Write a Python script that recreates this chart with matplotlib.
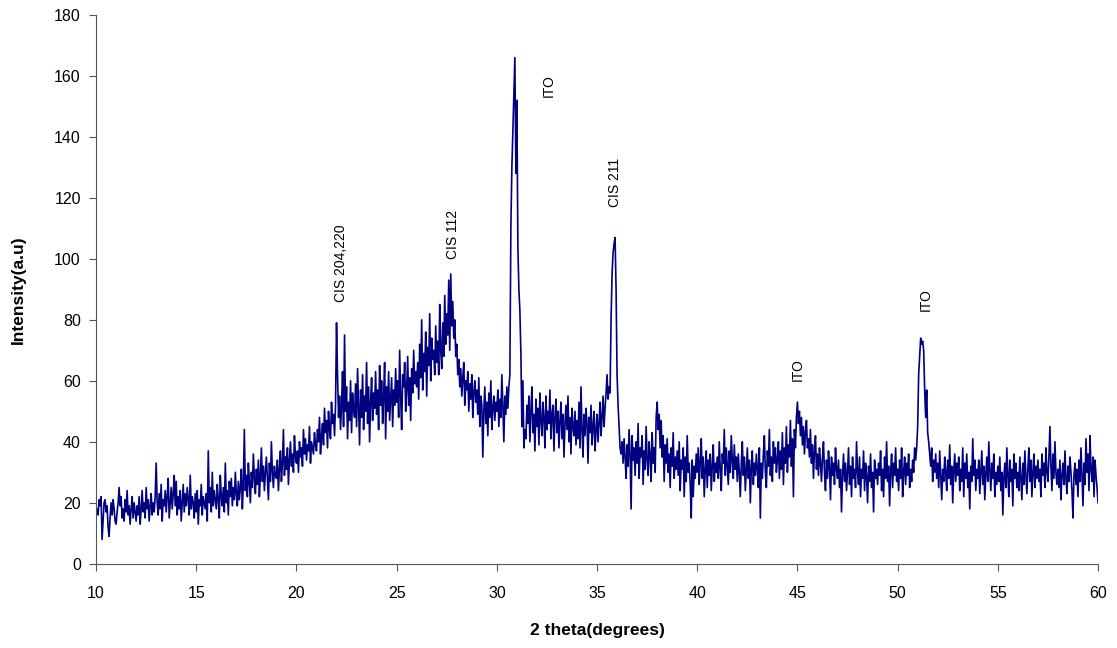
import numpy as np
import matplotlib
matplotlib.use("Agg")
import matplotlib.pyplot as plt

plt.rcParams['font.family'] = ['Liberation Sans', 'DejaVu Sans']

# intensity, one row per degree (step 0.05), 10 -> 60
rows = [
    [17, 18, 16, 21, 19, 22, 8, 14, 20, 21, 17, 19, 12, 9, 15, 20, 16, 21, 18, 14],
    [13, 17, 20, 25, 19, 22, 15, 18, 14, 21, 17, 24, 16, 19, 13, 18, 22, 15, 20, 17],
    [14, 19, 16, 22, 13, 18, 24, 17, 20, 15, 25, 18, 21, 14, 19, 23, 16, 20, 17, 22],
    [33, 20, 16, 23, 18, 26, 14, 21, 19, 24, 17, 22, 28, 15, 20, 25, 18, 23, 29, 19],
    [27, 16, 22, 18, 24, 14, 20, 26, 17, 23, 19, 25, 21, 16, 29, 18, 22, 20, 15, 23],
    [17, 24, 13, 21, 19, 26, 16, 22, 20, 18, 23, 14, 37, 20, 25, 17, 30, 19, 24, 21],
    [18, 26, 21, 15, 29, 22, 19, 25, 17, 33, 20, 24, 16, 27, 22, 28, 19, 25, 21, 30],
    [23, 19, 27, 21, 25, 31, 18, 26, 44, 24, 29, 22, 33, 27, 20, 30, 25, 36, 28, 23],
    [31, 26, 34, 22, 29, 38, 27, 32, 24, 30, 35, 28, 21, 33, 27, 40, 30, 25, 32, 29],
    [28, 34, 24, 31, 37, 27, 33, 44, 29, 35, 31, 38, 26, 34, 40, 32, 36, 30, 42, 35],
    [33, 37, 30, 40, 35, 38, 32, 44, 36, 41, 34, 39, 37, 45, 33, 40, 38, 36, 43, 39],
    [37, 44, 40, 48, 36, 42, 46, 39, 51, 43, 47, 38, 50, 44, 41, 53, 46, 49, 42, 52],
    [79, 62, 48, 55, 44, 52, 63, 45, 75, 50, 58, 41, 53, 47, 60, 43, 56, 51, 48, 59],
    [45, 64, 52, 39, 57, 48, 62, 44, 55, 50, 66, 46, 58, 40, 53, 61, 47, 56, 51, 63],
    [49, 57, 44, 65, 52, 60, 46, 55, 66, 41, 58, 50, 63, 47, 54, 61, 45, 57, 52, 64],
    [53, 60, 48, 70, 55, 44, 62, 58, 66, 50, 57, 68, 52, 61, 47, 64, 56, 70, 59, 63],
    [58, 66, 54, 72, 61, 80, 57, 69, 63, 76, 55, 71, 65, 82, 60, 74, 67, 70, 62, 78],
    [66, 73, 62, 85, 70, 64, 79, 68, 88, 72, 82, 75, 93, 70, 95, 78, 86, 74, 80, 68],
    [72, 62, 67, 58, 64, 55, 61, 66, 52, 60, 57, 63, 50, 59, 54, 62, 48, 56, 60, 53],
    [57, 49, 61, 45, 55, 52, 35, 50, 58, 46, 53, 42, 56, 48, 60, 44, 51, 55, 47, 53],
    [50, 57, 45, 54, 48, 62, 52, 40, 55, 49, 58, 51, 58, 62, 110, 130, 142, 155, 166, 128],
    [152, 104, 90, 83, 69, 45, 60, 38, 44, 41, 52, 46, 55, 40, 50, 58, 43, 49, 37, 54],
    [45, 51, 39, 56, 47, 42, 53, 48, 38, 55, 44, 50, 46, 57, 41, 49, 52, 37, 48, 54],
    [43, 50, 38, 47, 53, 41, 49, 35, 46, 52, 44, 55, 40, 48, 36, 51, 45, 42, 50, 39],
    [47, 41, 53, 38, 58, 44, 35, 49, 42, 51, 46, 33, 48, 43, 52, 39, 45, 50, 37, 44],
    [49, 40, 46, 53, 42, 48, 55, 45, 51, 56, 62, 54, 58, 56, 80, 95, 102, 105, 107, 90],
    [62, 52, 45, 38, 36, 40, 33, 41, 35, 28, 39, 32, 44, 36, 18, 42, 34, 38, 29, 40],
    [33, 46, 28, 38, 35, 42, 26, 37, 31, 45, 34, 29, 40, 36, 27, 43, 33, 38, 30, 48],
    [53, 44, 49, 38, 47, 35, 42, 27, 39, 33, 41, 30, 36, 25, 38, 32, 43, 28, 35, 31],
    [37, 29, 40, 24, 34, 31, 38, 22, 35, 27, 42, 30, 33, 26, 15, 34, 22, 32, 28, 36],
    [30, 38, 26, 33, 41, 28, 35, 22, 31, 37, 25, 34, 29, 36, 24, 32, 39, 27, 33, 30],
    [35, 28, 40, 31, 24, 36, 33, 44, 29, 38, 32, 26, 37, 30, 42, 34, 28, 39, 31, 35],
    [27, 36, 30, 22, 33, 40, 29, 35, 24, 31, 38, 28, 34, 20, 32, 37, 26, 33, 29, 36],
    [31, 25, 38, 15, 33, 28, 36, 42, 30, 25, 37, 32, 44, 29, 35, 27, 40, 33, 38, 30],
    [34, 40, 28, 37, 31, 43, 26, 38, 33, 45, 30, 39, 35, 47, 32, 41, 22, 44, 38, 48],
    [53, 46, 50, 42, 48, 39, 45, 36, 43, 47, 38, 41, 35, 44, 33, 39, 28, 37, 42, 31],
    [36, 29, 38, 33, 27, 35, 40, 30, 24, 34, 28, 37, 32, 21, 35, 29, 33, 26, 38, 31],
    [28, 34, 25, 31, 17, 29, 36, 27, 33, 24, 30, 38, 26, 32, 22, 35, 28, 31, 25, 40],
    [30, 26, 35, 22, 31, 28, 37, 24, 33, 29, 20, 32, 27, 36, 25, 30, 17, 34, 28, 31],
    [26, 33, 29, 37, 24, 31, 22, 35, 28, 40, 27, 32, 19, 30, 36, 25, 33, 29, 38, 27],
    [31, 24, 34, 28, 38, 22, 30, 35, 26, 33, 29, 36, 25, 31, 27, 34, 30, 38, 34, 38],
    [45, 62, 68, 74, 72, 73, 70, 57, 48, 57, 43, 40, 36, 32, 38, 27, 34, 30, 36, 28],
    [33, 25, 37, 29, 21, 31, 27, 35, 30, 24, 34, 28, 39, 26, 32, 20, 30, 36, 27, 33],
    [29, 35, 24, 31, 27, 38, 22, 33, 28, 36, 25, 30, 18, 32, 27, 41, 29, 34, 24, 31],
    [28, 34, 23, 30, 37, 26, 32, 21, 29, 35, 27, 40, 31, 24, 33, 28, 36, 22, 30, 26],
    [32, 27, 35, 24, 30, 16, 28, 33, 25, 38, 29, 22, 34, 27, 31, 19, 36, 28, 33, 25],
    [30, 24, 35, 28, 21, 33, 26, 37, 29, 23, 31, 38, 27, 34, 22, 30, 36, 25, 32, 28],
    [34, 27, 31, 22, 36, 29, 33, 25, 38, 30, 27, 35, 45, 32, 24, 36, 28, 40, 30, 26],
    [31, 25, 34, 21, 29, 33, 26, 37, 28, 23, 32, 27, 35, 30, 24, 15, 29, 33, 26, 31],
    [22, 34, 27, 38, 29, 19, 33, 26, 41, 30, 36, 24, 42, 31, 27, 35, 22, 34, 29, 25],
    [20],
]
intensity = np.concatenate([np.array(r, dtype=float) for r in rows])
two_theta = np.linspace(10, 60, len(intensity))

# peak labels: text, 2theta position, intensity at bottom of label
peak_labels = ['CIS 204,220', 'CIS 112', 'ITO', 'CIS 211', 'ITO', 'ITO']
peak_x = [22.2, 27.8, 32.6, 35.9, 45.0, 51.4]
peak_y = [86, 100, 153, 117, 60, 83]

fig = plt.figure(figsize=(11.17, 6.48), dpi=100)
ax = fig.add_axes([0.086, 0.130, 0.897, 0.847])
ax.plot(two_theta, intensity, color='#000080', linewidth=1.2)

for label, px, py in zip(peak_labels, peak_x, peak_y):
    ax.text(px, py, label, rotation=90, ha='center', va='bottom', fontsize=10)

ax.set_xlim(10, 60)
ax.set_ylim(0, 180)
ax.set_xticks(np.arange(10, 61, 5))
ax.set_yticks(np.arange(0, 181, 20))
ax.tick_params(labelsize=11.5, direction='out', length=5, color='#555555')
ax.tick_params(axis='x', pad=11)
ax.tick_params(axis='y', pad=6)
for side in ['top', 'right']:
    ax.spines[side].set_visible(False)
for side in ['left', 'bottom']:
    ax.spines[side].set_color('#555555')
ax.set_xlabel('2 theta(degrees)', fontsize=12.5, fontweight='bold', labelpad=16)
ax.set_ylabel('Intensity(a.u)', fontsize=12.5, fontweight='bold', labelpad=20)

fig.savefig('out.png', dpi=100)
